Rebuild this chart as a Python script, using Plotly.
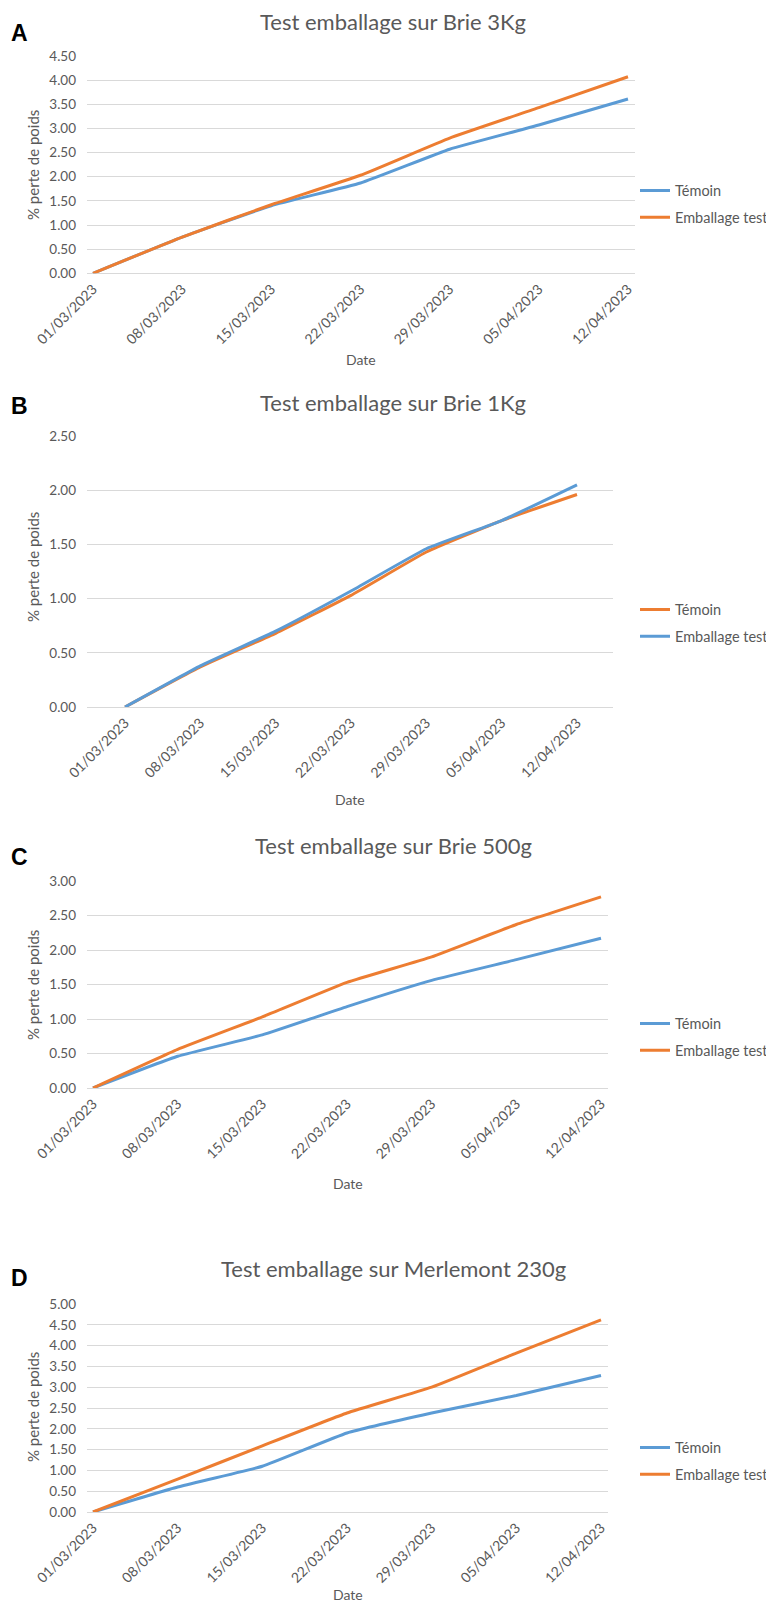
import plotly.graph_objects as go
import pandas as pd

# ---------------- data ----------------
dates = ["2023-03-01", "2023-03-08", "2023-03-15", "2023-03-22",
         "2023-03-29", "2023-04-05", "2023-04-12"]
tick_labels = ["01/03/2023", "08/03/2023", "15/03/2023", "22/03/2023",
               "29/03/2023", "05/04/2023", "12/04/2023"]

series_names = ["Témoin", "Emballage test"]

a_temoin = [0.00, 0.75, 1.40, 1.87, 2.57, 3.07, 3.61]
a_emballage = [0.00, 0.75, 1.42, 2.03, 2.80, 3.43, 4.07]

b_temoin = [0.00, 0.37, 0.68, 1.03, 1.43, 1.72, 1.96]
b_emballage = [0.00, 0.38, 0.70, 1.07, 1.46, 1.72, 2.05]

c_temoin = [0.00, 0.46, 0.77, 1.18, 1.56, 1.86, 2.17]
c_emballage = [0.00, 0.56, 1.03, 1.53, 1.90, 2.37, 2.77]

d_temoin = [0.00, 0.60, 1.10, 1.90, 2.38, 2.80, 3.28]
d_emballage = [0.00, 0.79, 1.59, 2.38, 3.00, 3.82, 4.62]

titles = ["Test emballage sur Brie 3Kg", "Test emballage sur Brie 1Kg",
          "Test emballage sur Brie 500g", "Test emballage sur Merlemont 230g"]
letters = ["A", "B", "C", "D"]
y_maxes = [4.5, 2.5, 3.0, 5.0]

# ---------------- style / layout ----------------
PAGE_W, PAGE_H = 774, 1614
OFF = 8                      # default body margin of the html page
W, H = PAGE_W - OFF, PAGE_H - 2 * OFF - 1   # keep page free of scrollbars
BLUE = "#5B9BD5"
ORANGE = "#ED7D31"
GRID = "#D9D9D9"
TXT = "#595959"
FONT = "Lato, 'Noto Sans', sans-serif"


def px(c):
    return (c - OFF) / W


def py(c):
    return 1 - (c - OFF) / H


panels = [
    dict(temoin=a_temoin, emb=a_emballage, tc=BLUE, ec=ORANGE,
         top=56, bottom=273.3, left=87, right=635, x0=93, x1=628,
         title_y=22, letter_y=33, ylabel_y=165, date_y=360, legend_y=204),
    dict(temoin=b_temoin, emb=b_emballage, tc=ORANGE, ec=BLUE,
         top=436, bottom=707, left=87, right=613, x0=125, x1=577,
         title_y=402, letter_y=406, ylabel_y=567, date_y=799, legend_y=623),
    dict(temoin=c_temoin, emb=c_emballage, tc=BLUE, ec=ORANGE,
         top=881, bottom=1088, left=87, right=608, x0=93, x1=601,
         title_y=845, letter_y=857, ylabel_y=985, date_y=1183, legend_y=1037),
    dict(temoin=d_temoin, emb=d_emballage, tc=BLUE, ec=ORANGE,
         top=1304, bottom=1512, left=87, right=608, x0=93, x1=601,
         title_y=1268, letter_y=1278, ylabel_y=1407, date_y=None, legend_y=1461),
]

fig = go.Figure()
annotations = []
layout_extra = {}

d_first = pd.Timestamp(dates[0])
d_last = pd.Timestamp(dates[-1])
n_days = (d_last - d_first).days

for i, p in enumerate(panels):
    k = "" if i == 0 else str(i + 1)
    xa, ya = "x" + k, "y" + k
    leg = "legend" + k
    for name, vals, col in [(series_names[0], p["temoin"], p["tc"]),
                            (series_names[1], p["emb"], p["ec"])]:
        fig.add_trace(go.Scatter(
            x=dates, y=vals, name=name, mode="lines",
            line=dict(color=col, width=3, shape="spline", smoothing=0.35),
            xaxis=xa, yaxis=ya, legend=leg, legendgroup=f"{i}-{name}",
            showlegend=True))

    ppd = (p["x1"] - p["x0"]) / n_days
    r0 = d_first - pd.Timedelta(days=(p["x0"] - p["left"]) / ppd)
    r1 = d_last + pd.Timedelta(days=(p["right"] - p["x1"]) / ppd)

    layout_extra["xaxis" + k] = dict(
        domain=[px(p["left"]), px(p["right"])], anchor=ya, type="date",
        range=[r0, r1], tickmode="array", tickvals=dates, ticktext=tick_labels,
        tickangle=-45, showgrid=False, showline=False, zeroline=False,
        ticks="", automargin=False, ticklabelstandoff=4,
        tickfont=dict(family=FONT, size=14, color=TXT))
    layout_extra["yaxis" + k] = dict(
        domain=[py(p["bottom"]), py(p["top"])], anchor=xa,
        range=[0, y_maxes[i]], dtick=0.5, tick0=0, tickformat=".2f",
        showgrid=True, gridcolor=GRID, gridwidth=1, zeroline=True,
        zerolinecolor=GRID, zerolinewidth=1, showline=False, ticks="",
        ticklabelstandoff=10, automargin=False,
        tickfont=dict(family=FONT, size=13.5, color=TXT))
    layout_extra[leg] = dict(
        x=1, xanchor="right", y=py(p["legend_y"]),
        yanchor="middle", bgcolor="rgba(0,0,0,0)", tracegroupgap=5,
        font=dict(family=FONT, size=14.5, color=TXT), itemwidth=30)

    if p["date_y"] is None:
        date_pos = dict(y=0, yanchor="bottom")
    else:
        date_pos = dict(y=py(p["date_y"]), yanchor="middle")

    annotations += [
        dict(text=titles[i], x=px(393), y=py(p["title_y"]), xref="paper",
             yref="paper", showarrow=False, xanchor="center", yanchor="middle",
             font=dict(family=FONT, size=22, color=TXT)),
        dict(text=f"<b>{letters[i]}</b>", x=px(20), y=py(p["letter_y"]),
             xref="paper", yref="paper", showarrow=False, xanchor="center",
             yanchor="middle",
             font=dict(family="Liberation Sans, Arial", size=23, color="#000000")),
        dict(text="% perte de poids", x=px(33), y=py(p["ylabel_y"]),
             xref="paper", yref="paper", showarrow=False, textangle=-90,
             xanchor="center", yanchor="middle",
             font=dict(family=FONT, size=15, color=TXT)),
        dict(text="Date", x=px((p["left"] + p["right"]) / 2),
             xref="paper", yref="paper", showarrow=False, xanchor="center",
             font=dict(family=FONT, size=14, color=TXT), **date_pos),
    ]

fig.update_layout(
    width=W, height=H, margin=dict(l=0, r=0, t=0, b=0, autoexpand=False),
    paper_bgcolor="white", plot_bgcolor="white",
    annotations=annotations, **layout_extra)

fig.write_html("out.html")
